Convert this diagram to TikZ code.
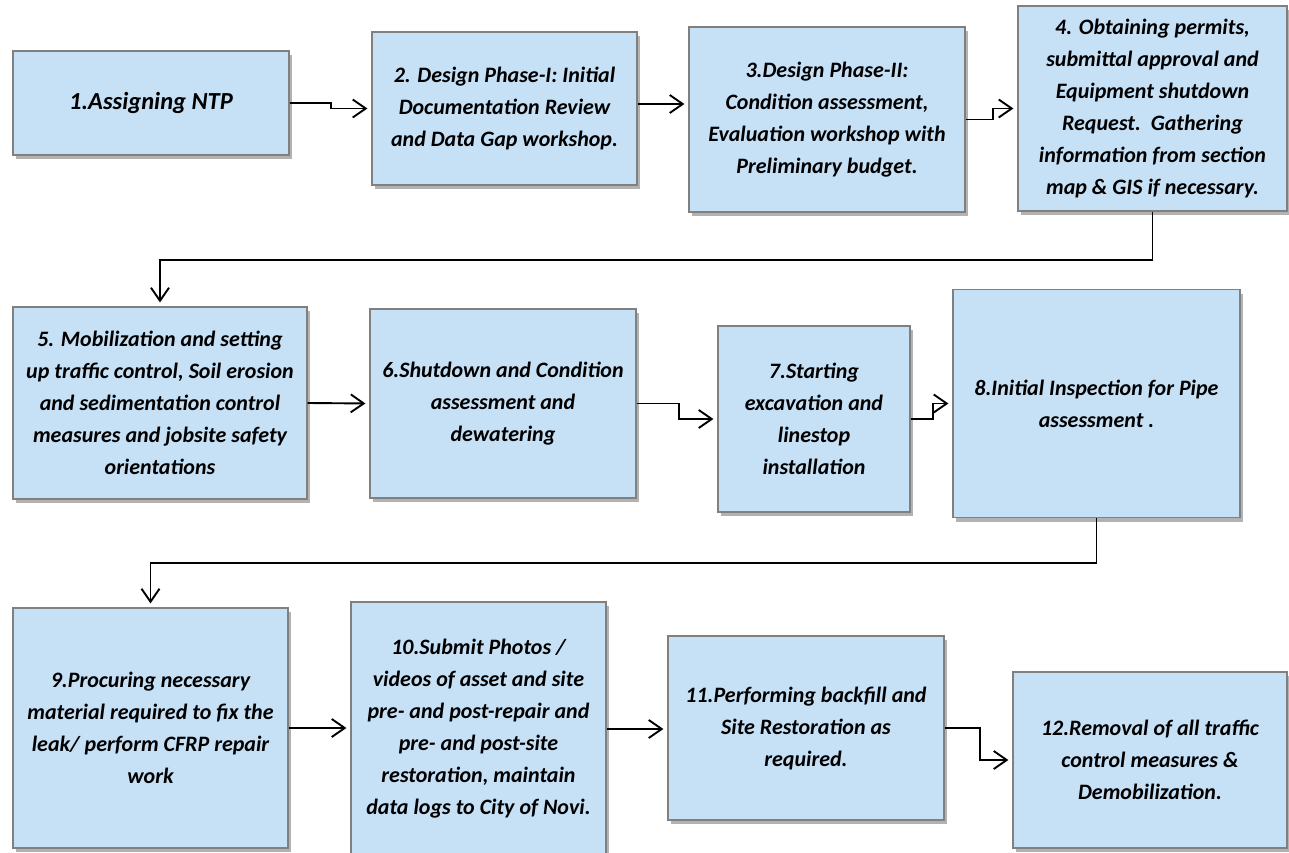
\documentclass[tikz,border=0pt]{standalone}
\usepackage{fontspec}
\setmainfont{Carlito}
\usetikzlibrary{arrows.meta,shadows}
\definecolor{boxfill}{RGB}{198,224,246}
\definecolor{boxedge}{RGB}{128,128,128}
\tikzset{
  stepbox/.style={draw=boxedge, line width=1.2pt, fill=boxfill, inner sep=0pt,
    align=center, font=\fontsize{22}{32}\selectfont\bfseries\itshape,
    drop shadow={shadow xshift=3pt, shadow yshift=-4pt, fill=black, opacity=0.3}},
  arr/.style={line width=1.9pt, shorten >=4pt, -{Straight Barb[length=13pt,width=18pt,line width=1.9pt]}}
}
\begin{document}
\begin{tikzpicture}[x=1pt,y=-1pt]
\useasboundingbox (0,0) rectangle (1289,853);
% row 1
\node[stepbox, minimum width=276pt, minimum height=104pt, font=\fontsize{24.5}{32}\selectfont\bfseries\itshape] (n1) at (151,103) {1.Assigning NTP};
\node[stepbox, minimum width=265pt, minimum height=153pt] (n2) at (504.5,108.5) {2. Design Phase-I: Initial\\Documentation Review\\and Data Gap workshop.};
\node[stepbox, minimum width=276pt, minimum height=185pt] (n3) at (827,119.5) {3.Design Phase-II:\\Condition assessment,\\Evaluation workshop with\\Preliminary budget.};
\node[stepbox, minimum width=269pt, minimum height=205pt] (n4) at (1152.5,108.5) {4. Obtaining permits,\\submittal approval and\\Equipment shutdown\\Request.~~Gathering\\information from section\\map \& GIS if necessary.};
% row 2
\node[stepbox, minimum width=294pt, minimum height=192pt] (n5) at (160,403) {5. Mobilization and setting\\up traffic control, Soil erosion\\and sedimentation control\\measures and jobsite safety\\orientations};
\node[stepbox, minimum width=266pt, minimum height=189pt] (n6) at (503,403.5) {6.Shutdown and Condition\\assessment and\\dewatering};
\node[stepbox, minimum width=192pt, minimum height=186pt] (n7) at (814,419) {7.Starting\\excavation and\\linestop\\installation};
\node[stepbox, minimum width=287pt, minimum height=228pt] (n8) at (1096.5,403.5) {8.Initial Inspection for Pipe\\assessment .};
% row 3
\node[stepbox, minimum width=275pt, minimum height=240pt] (n9) at (150.5,728) {9.Procuring necessary\\material required to fix the\\leak/ perform CFRP repair\\work};
\node[stepbox, minimum width=255pt, minimum height=254pt] (n10) at (478.5,729) {10.Submit Photos /\\videos of asset and site\\pre- and post-repair and\\pre- and post-site\\restoration, maintain\\data logs to City of Novi.};
\node[stepbox, minimum width=276pt, minimum height=184pt] (n11) at (806,728) {11.Performing backfill and\\Site Restoration as\\required.};
\node[stepbox, minimum width=274pt, minimum height=176pt] (n12) at (1150,760) {12.Removal of all traffic\\control measures \&\\Demobilization.};
% connectors
\draw[arr] (n1.east) -- ++(41,0) |- (n2.west);
\coordinate (r1) at (0,104);
\draw[arr] (n2.east |- r1) -- (n3.west |- r1);
\draw[arr] (n3.east) -- ++(27,0) |- (n4.west);
\draw[arr] (n4.south) -- ++(0,48) -| (n5.north);
\draw[arr] (n5.east) -- (n6.west);
\draw[arr] (n6.east) -- ++(42,0) |- (n7.west);
\draw[arr] (n7.east) -- ++(22,0) |- (n8.west);
\draw[arr] (n8.south) -- ++(0,45) -| (n9.north);
\draw[arr] (n9.east) -- (n10.west |- n9.east);
\draw[arr] (n10.east) -- (n11.west |- n10.east);
\draw[arr] (n11.east) -- ++(35,0) |- (n12.west);
\end{tikzpicture}
\end{document}
